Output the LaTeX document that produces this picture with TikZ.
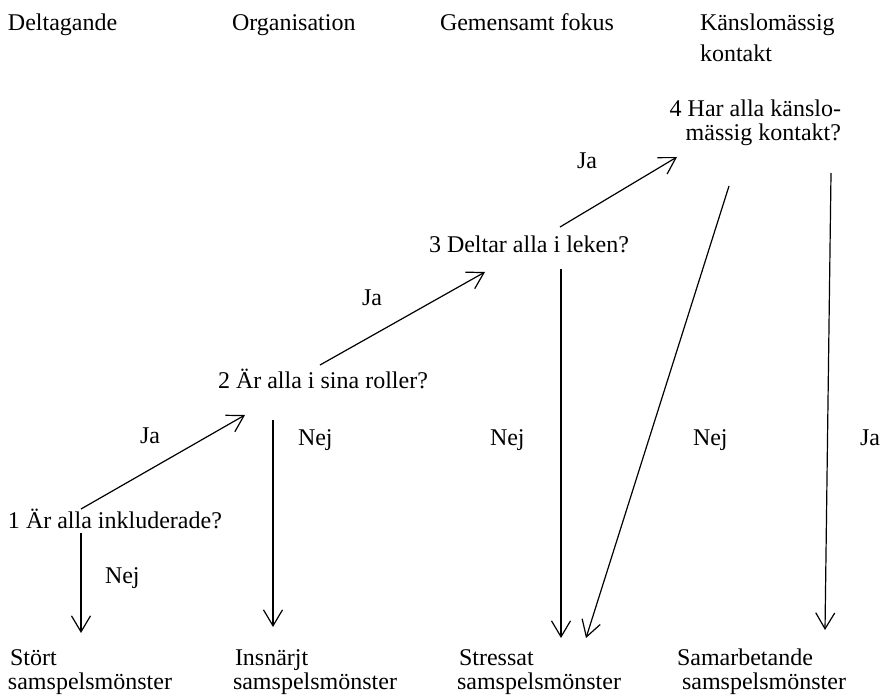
\documentclass[tikz,border=0pt]{standalone}
\usepackage{fontspec}
\setmainfont{Liberation Serif}
\usetikzlibrary{arrows.meta}
\tikzset{
  txt/.style={inner sep=0pt, outer sep=0pt, anchor=base west, font=\fontsize{24}{28}\selectfont},
  txtr/.style={txt, anchor=base east},
  arr/.style={line width=1.2pt, -{Straight Barb[length=16pt,width=19pt,line width=1.2pt]}}
}
\begin{document}
\begin{tikzpicture}[x=1pt,y=-1pt]
\useasboundingbox (0,0) rectangle (882,695);
% headers
\node[txt] (h1) at (8,31) {Deltagande};
\node[txt] (h2) at (232,31) {Organisation};
\node[txt] (h3) at (440,31) {Gemensamt fokus};
\node[txt] (h4a) at (700,31) {Känslomässig};
\node[txt] (h4b) at (700,62) {kontakt};
% questions
\node[txt] (q1) at (8,528) {1 Är alla inkluderade?};
\node[txt] (q2) at (218,388) {2 Är alla i sina roller?};
\node[txt] (q3) at (429,252) {3 Deltar alla i leken?};
\node[txtr] (q4a) at (841,117) {4 Har alla känslo-};
\node[txtr] (q4b) at (841,141) {mässig kontakt?};
% outcomes
\node[txt] (o1a) at (10,665) {Stört};
\node[txt] (o1b) at (8,689) {samspelsmönster};
\node[txt] (o2a) at (235,665) {Insnärjt};
\node[txt] (o2b) at (233,689) {samspelsmönster};
\node[txt] (o3a) at (459,665) {Stressat};
\node[txt] (o3b) at (457,689) {samspelsmönster};
\node[txt] (o4a) at (677,665) {Samarbetande};
\node[txt] (o4b) at (682,689) {samspelsmönster};
% connector ends
\coordinate (q1ja) at (81,509);
\coordinate (q1nej) at (81,533);
\coordinate (q2in) at (245,415);
\coordinate (q2ja) at (320,365);
\coordinate (q2nej) at (273,420);
\coordinate (q3in) at (485,272);
\coordinate (q3ja) at (560,227);
\coordinate (q3nej) at (561,269);
\coordinate (q4in) at (677,157);
\coordinate (q4nej) at (729,186);
\coordinate (q4ja) at (831,173);
\coordinate (e1) at (81,633);
\coordinate (e2) at (273,627);
\coordinate (e3a) at (561,638);
\coordinate (e3b) at (586,638);
\coordinate (e4) at (825,630);
% connectors
\draw[arr] (q1ja) -- (q2in);
\draw[arr] (q1nej) -- (e1);
\draw[arr] (q2ja) -- (q3in);
\draw[arr] (q2nej) -- (e2);
\draw[arr] (q3ja) -- (q4in);
\draw[arr] (q3nej) -- (e3a);
\draw[arr] (q4nej) -- (e3b);
\draw[arr] (q4ja) -- (e4);
% labels
\node[txt] (l1) at (140,443) {Ja};
\node[txt] (l2) at (105,583) {Nej};
\node[txt] (l3) at (362,305) {Ja};
\node[txt] (l4) at (298,445) {Nej};
\node[txt] (l5) at (490,445) {Nej};
\node[txt] (l6) at (577,168) {Ja};
\node[txt] (l7) at (693,445) {Nej};
\node[txt] (l8) at (860,445) {Ja};
\end{tikzpicture}
\end{document}
